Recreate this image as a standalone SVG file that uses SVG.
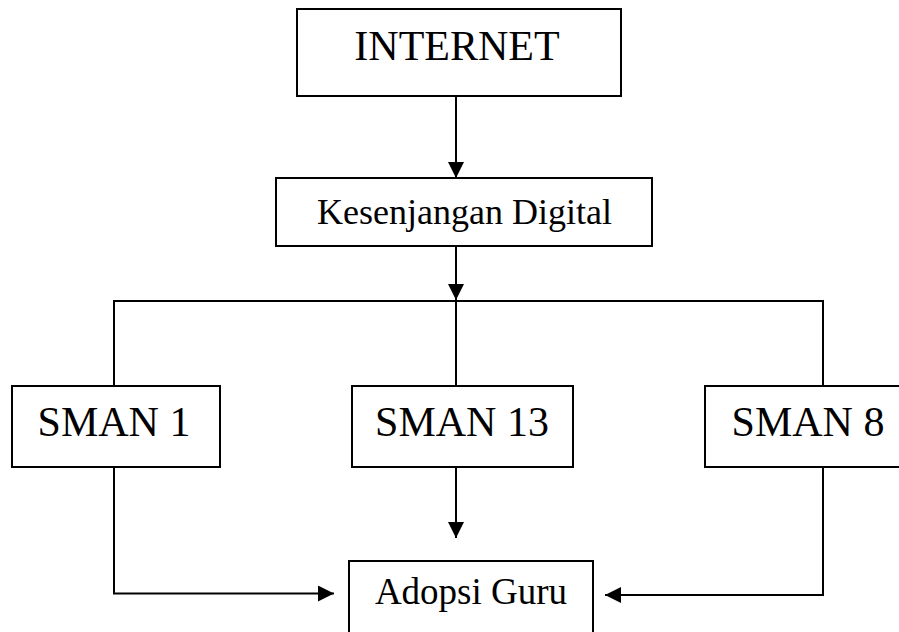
<svg xmlns="http://www.w3.org/2000/svg" width="899" height="632" viewBox="0 0 899 632">
<style>
.box{fill:#fff;stroke:#000;stroke-width:2}
.t{font-family:"Liberation Serif","Times New Roman",serif;fill:#000;text-anchor:middle}
.c{fill:none;stroke:#000;stroke-width:2}
</style>
<defs>
<marker id="ah" markerUnits="userSpaceOnUse" markerWidth="16" markerHeight="16" viewBox="0 0 16 16" refX="16" refY="8" orient="auto">
<path d="M0,0 L16,8 L0,16 Z" fill="#000"/>
</marker>
</defs>
<rect width="899" height="632" fill="#fff"/>
<g id="connectors">
<line class="c" x1="456" y1="96" x2="456" y2="178" marker-end="url(#ah)"/>
<line class="c" x1="456" y1="246" x2="456" y2="300" marker-end="url(#ah)"/>
<polyline class="c" points="114,386 114,301 823,301 823,386"/>
<line class="c" x1="456" y1="301" x2="456" y2="386"/>
<polyline class="c" points="114,467 114,593.5 334,593.5" marker-end="url(#ah)"/>
<line class="c" x1="456" y1="467" x2="456" y2="538" marker-end="url(#ah)"/>
<polyline class="c" points="823,467 823,595 605,595" marker-end="url(#ah)"/>
</g>
<g id="internet">
<rect class="box" x="297" y="9" width="324" height="87"/>
<text class="t" x="457" y="60" font-size="42">INTERNET</text>
</g>
<g id="kesenjangan">
<rect class="box" x="276" y="178" width="376" height="68"/>
<text class="t" x="464.5" y="224" font-size="36">Kesenjangan Digital</text>
</g>
<g id="sman1">
<rect class="box" x="12" y="386" width="208" height="81"/>
<text class="t" x="114" y="436" font-size="42">SMAN 1</text>
</g>
<g id="sman13">
<rect class="box" x="352" y="386" width="221" height="81"/>
<text class="t" x="462" y="436" font-size="42">SMAN 13</text>
</g>
<g id="sman8">
<rect class="box" x="705" y="386" width="200" height="81"/>
<text class="t" x="808" y="436" font-size="42">SMAN 8</text>
</g>
<g id="adopsi">
<rect class="box" x="349" y="561" width="244" height="75"/>
<text class="t" x="471" y="604" font-size="37">Adopsi Guru</text>
</g>
</svg>
